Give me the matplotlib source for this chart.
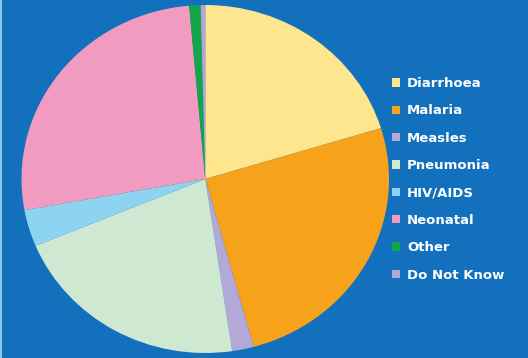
import matplotlib
matplotlib.use("Agg")
import matplotlib.pyplot as plt
from matplotlib.patches import Rectangle, Patch

# Share of deaths by cause (%)
causes = ["Diarrhoea", "Malaria", "Measles", "Pneumonia", "HIV/AIDS",
          "Neonatal", "Other", "Do Not Know"]
shares = [20.3, 25.5, 1.9, 21.1, 3.4, 26.5, 1.0, 0.4]
colors = ["#FEE68E", "#F7A21B", "#B3A9D9", "#CFE8D2", "#8DD4F2",
          "#F29BC1", "#12A54A", "#B6A4D8"]

BG = "#1270BD"
W, H = 528, 358

fig = plt.figure(figsize=(W / 100, H / 100), dpi=100, facecolor=BG)

# thin light strip along the left border
fig.patches.append(Rectangle((0, 0), 2 / W, 1, transform=fig.transFigure,
                             facecolor="#86C8EC", edgecolor="none"))

ax = fig.add_axes([21.5 / W, 5 / H, 367.5 / W, 348 / H])
ax.set_facecolor(BG)
ax.pie(shares, colors=colors, startangle=90, counterclock=False,
       radius=1.0, wedgeprops=dict(linewidth=0))
ax.set_aspect("auto")
ax.set_xlim(-1, 1)
ax.set_ylim(-1, 1)
ax.axis("off")

handles = [Patch(facecolor=c, edgecolor="none") for c in colors]
leg = fig.legend(handles, causes, loc="upper left",
                 bbox_to_anchor=(392 / W, 1 - 77 / H),
                 frameon=False, handlelength=0.6, handleheight=0.6,
                 handletextpad=0.55, labelspacing=1.09, borderpad=0,
                 borderaxespad=0,
                 prop=dict(family="DejaVu Sans", weight="bold", size=9.5))
for t in leg.get_texts():
    t.set_color("white")

fig.savefig("out.png", dpi=100, facecolor=BG)
